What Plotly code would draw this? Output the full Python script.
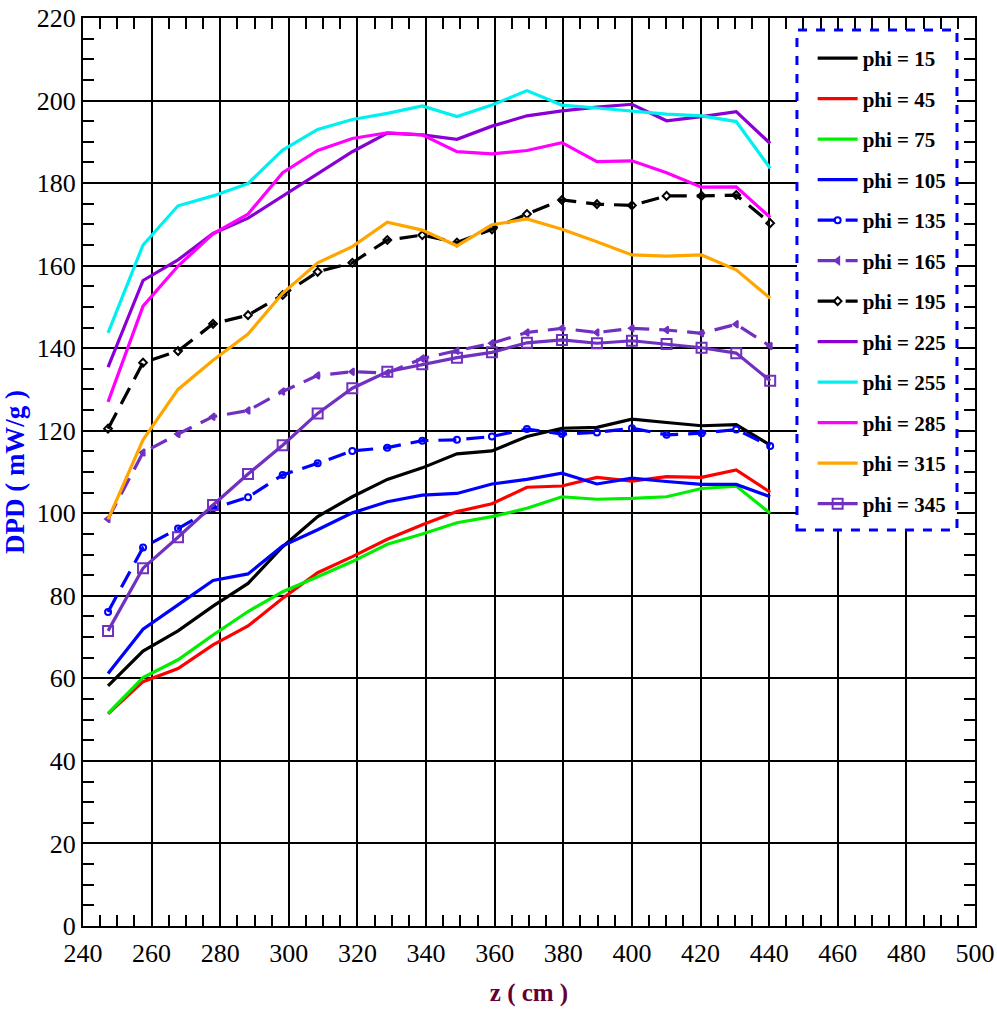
import plotly.graph_objects as go

z = [247.3, 257.5, 267.7, 277.9, 288.1, 298.2, 308.4, 318.5, 328.7, 338.9,
     349.0, 359.2, 369.4, 379.6, 389.8, 400.0, 410.1, 420.3, 430.4, 440.3]

phi15 = [58.2, 66.6, 71.5, 77.5, 83.0, 91.9, 99.2, 104.0, 108.2, 111.0,
         114.4, 115.1, 118.6, 120.6, 120.8, 122.8, 122.0, 121.2, 121.5, 116.5]
phi45 = [51.4, 59.2, 62.4, 68.1, 72.7, 79.4, 85.6, 89.5, 93.7, 97.2,
         100.4, 102.3, 106.3, 106.6, 108.7, 107.8, 108.9, 108.7, 110.5, 105.1]
phi75 = [51.5, 60.2, 64.5, 70.5, 76.2, 81.0, 84.6, 88.3, 92.5, 95.0,
         97.7, 99.2, 101.2, 104.0, 103.4, 103.6, 104.0, 106.0, 106.6, 100.0]
phi105 = [61.2, 71.9, 77.8, 83.7, 85.3, 92.1, 96.0, 100.1, 102.8, 104.4,
          104.8, 107.1, 108.2, 109.7, 107.1, 108.5, 107.7, 107.0, 107.0, 104.0]
phi135 = [76.1, 91.7, 96.3, 101.2, 103.9, 109.3, 112.1, 115.1, 115.9, 117.6,
          117.8, 118.6, 120.4, 119.2, 119.6, 120.6, 119.0, 119.4, 120.3, 116.3]
phi165 = [98.6, 114.7, 119.2, 123.4, 124.9, 129.5, 133.4, 134.3, 134.0, 137.5,
          139.4, 141.2, 143.8, 144.8, 143.8, 144.8, 144.4, 143.6, 145.8, 140.5]
phi195 = [120.5, 136.5, 139.3, 145.9, 148.0, 152.9, 158.5, 160.7, 166.2, 167.4,
          165.6, 168.8, 172.5, 175.9, 174.9, 174.6, 176.9, 176.9, 177.1, 170.3]
phi225 = [135.4, 156.4, 161.4, 167.8, 171.5, 176.9, 182.2, 187.6, 192.1, 191.7,
          190.6, 193.8, 196.3, 197.5, 198.4, 199.1, 195.1, 196.1, 197.3, 189.6]
phi255 = [143.7, 165.0, 174.5, 176.9, 179.9, 188.0, 193.0, 195.4, 196.9, 198.7,
          196.1, 198.9, 202.4, 198.9, 198.2, 197.5, 196.7, 196.3, 194.9, 183.6]
phi285 = [127.0, 150.2, 159.9, 167.7, 172.5, 182.5, 187.9, 190.8, 192.2, 191.7,
          187.6, 187.1, 187.9, 189.8, 185.2, 185.4, 182.5, 179.0, 179.1, 171.7]
phi315 = [98.5, 117.8, 130.0, 137.1, 143.4, 153.3, 160.7, 164.6, 170.5, 168.6,
          164.8, 169.9, 171.3, 168.8, 165.8, 162.6, 162.3, 162.6, 159.0, 152.1]
phi345 = [71.5, 86.7, 94.2, 102.0, 109.5, 116.5, 124.2, 130.3, 134.3, 136.1,
          137.7, 139.0, 141.3, 142.0, 141.2, 141.8, 141.0, 140.1, 138.8, 132.1]

names = ["phi = 15", "phi = 45", "phi = 75", "phi = 105", "phi = 135", "phi = 165",
         "phi = 195", "phi = 225", "phi = 255", "phi = 285", "phi = 315", "phi = 345"]
series = [phi15, phi45, phi75, phi105, phi135, phi165,
          phi195, phi225, phi255, phi285, phi315, phi345]

styles = [
    dict(color="#000000", dash="solid", symbol=None),
    dict(color="#ff0000", dash="solid", symbol=None),
    dict(color="#00ee00", dash="solid", symbol=None),
    dict(color="#0000ff", dash="solid", symbol=None),
    dict(color="#0000ff", dash="18px,10px", symbol="circle-open", msize=6),
    dict(color="#7030c0", dash="18px,10px", symbol="triangle-left", msize=6),
    dict(color="#000000", dash="18px,10px", symbol="diamond-open", msize=6),
    dict(color="#8a00d4", dash="solid", symbol=None),
    dict(color="#00f0f0", dash="solid", symbol=None),
    dict(color="#ff00ff", dash="solid", symbol=None),
    dict(color="#ffa500", dash="solid", symbol=None),
    dict(color="#7030c0", dash="solid", symbol="square-open", msize=10),
]

fig = go.Figure()
for i, (nm, ys, st) in enumerate(zip(names, series, styles)):
    if st["symbol"]:
        mode = "lines+markers"
        marker = dict(symbol=st["symbol"], size=st["msize"], color=st["color"],
                      line=dict(color=st["color"], width=2))
    else:
        mode = "lines"
        marker = None
    fig.add_trace(go.Scatter(
        x=z, y=ys, name=nm, mode=mode, legendgroup=f"g{i}",
        line=dict(color=st["color"], width=3.2, dash=st["dash"]),
        marker=marker,
    ))

axis_common = dict(
    showline=True, linecolor="black", linewidth=2, mirror="allticks",
    showgrid=True, gridcolor="black", gridwidth=1.6,
    ticks="inside", ticklen=12, tickwidth=1.5, tickcolor="black",
    tickfont=dict(family="Liberation Serif", size=26, color="black"),
    zeroline=False, automargin=False,
    minor=dict(dtick=5, ticks="inside", ticklen=11, tickwidth=1.5,
               tickcolor="black", showgrid=False),
)

fig.update_layout(
    width=997, height=1011,
    margin=dict(l=83, r=22, t=18, b=85, autoexpand=False),
    paper_bgcolor="white", plot_bgcolor="white",
    showlegend=True,
    legend=dict(
        x=0.818, y=0.978, xanchor="left", yanchor="top",
        bgcolor="rgba(0,0,0,0)", borderwidth=0,
        tracegroupgap=10.2, itemwidth=40,
        font=dict(family="Liberation Serif", size=21, color="black", weight="bold"),
    ),
    xaxis=dict(range=[240, 500], dtick=20, tick0=240, ticklabelstandoff=3,
               title=dict(text="<b>z ( cm )</b>", standoff=16,
                          font=dict(family="Liberation Serif", size=25, color="#660033")),
               **axis_common),
    yaxis=dict(range=[0, 220], dtick=20, tick0=0,
               title=dict(text="<b>DPD ( mW/g )</b>", standoff=8,
                          font=dict(family="Liberation Serif", size=27, color="#0000ff")),
               **axis_common),
    shapes=[dict(type="rect", xref="paper", yref="paper",
                 x0=0.8004, x1=0.9798, y0=0.4361, y1=0.9868,
                 line=dict(color="#0000ff", width=3, dash="dash"),
                 fillcolor="white", layer="above")],
)

fig.write_html("out.html")
